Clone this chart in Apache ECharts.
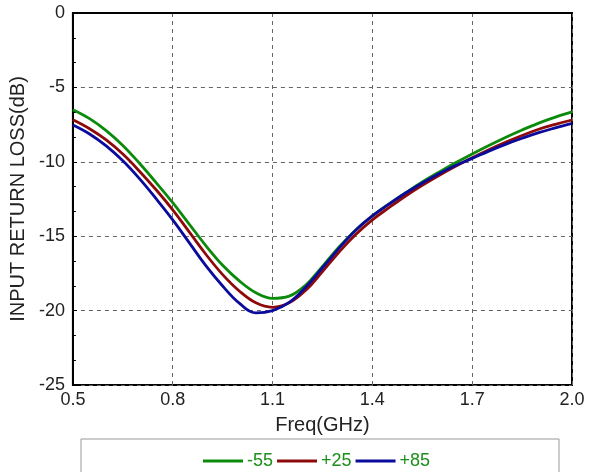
<!DOCTYPE html>
<html>
<head>
<meta charset="utf-8">
<script src="https://cdn.jsdelivr.net/npm/echarts@6/dist/echarts.min.js"></script>
<style>
	html, body { margin: 0; padding: 0; background: #fff; }
	#main { width: 593px; height: 472px; }
</style>
</head>
<body>
<div id="main"></div>
<script>
// 频率点 (GHz)
const freq = [0.5, 0.55, 0.6, 0.65, 0.7, 0.75, 0.8, 0.85, 0.9, 0.95, 1.0, 1.05, 1.1, 1.15, 1.2, 1.25,
	1.3, 1.35, 1.4, 1.45, 1.5, 1.55, 1.6, 1.65, 1.7, 1.75, 1.8, 1.85, 1.9, 1.95, 2.0];
// 各温度下的输入回波损耗 (dB)
const loss_m55 = [-6.5, -7.1, -7.9, -8.9, -10.1, -11.4, -12.75, -14.2, -15.65, -16.95, -18.0, -18.8, -19.18, -19.03, -18.28, -17.03,
	-15.73, -14.58, -13.63, -12.83, -12.08, -11.36, -10.7, -10.07, -9.47, -8.9, -8.36, -7.86, -7.4, -7.0, -6.65];
const loss_p25 = [-7.18, -7.78, -8.53, -9.48, -10.63, -11.88, -13.23, -14.73, -16.23, -17.58, -18.68, -19.48, -19.78, -19.48, -18.63, -17.38,
	-16.06, -14.88, -13.9, -13.08, -12.3, -11.58, -10.92, -10.3, -9.73, -9.19, -8.69, -8.23, -7.81, -7.48, -7.19];
const loss_p85 = [-7.53, -8.13, -8.93, -9.93, -11.13, -12.48, -13.9, -15.45, -17.0, -18.35, -19.5, -20.15, -20.0, -19.45, -18.42, -17.12,
	-15.8, -14.6, -13.64, -12.84, -12.1, -11.42, -10.8, -10.25, -9.77, -9.28, -8.83, -8.42, -8.04, -7.72, -7.42];
const series_names = ['-55', '+25', '+85'];

const chart = echarts.init(document.getElementById('main'));

function pairs(ys) {
	return freq.map((f, i) => [f, ys[i]]);
}

const font = 'Liberation Sans, Arial, sans-serif';
const colors = ['#0b8a0b', '#8e0a0a', '#0a0a9c'];

let option = {
	animation: false,
	textStyle: { fontFamily: font },
	grid: {
		left: 72,
		right: 21,
		top: 13,
		bottom: 87,
		show: true,
		borderColor: '#000',
		borderWidth: 2,
	},
	legend: {
		top: 447,
		left: 198,
		itemWidth: 40,
		itemHeight: 3,
		itemGap: 4,
		textStyle: { color: '#1a8f1a', fontSize: 18, fontFamily: font, padding: [0, 0, 0, -1] },
		data: series_names.map(n => ({ name: n, icon: 'rect' })),
	},
	graphic: [
		{
			type: 'rect',
			shape: { x: 81, y: 439, width: 478, height: 40 },
			style: { fill: 'none', stroke: '#999', lineWidth: 1 },
			silent: true,
		},
	],
	xAxis: {
		type: 'value',
		min: 0.5,
		max: 2.0,
		interval: 0.3,
		name: 'Freq(GHz)',
		nameLocation: 'middle',
		nameGap: 30,
		nameTextStyle: { color: '#222', fontSize: 20 },
		axisLine: { lineStyle: { color: '#000', width: 2 } },
		axisTick: { show: false },
		axisLabel: {
			color: '#222',
			fontSize: 18,
			margin: 6,
			formatter: v => v.toFixed(1),
		},
		splitLine: { show: true, lineStyle: { color: '#666', type: [4, 4], width: 1 } },
	},
	yAxis: {
		type: 'value',
		min: -25,
		max: 0,
		interval: 5,
		name: 'INPUT RETURN LOSS(dB)',
		nameLocation: 'middle',
		nameGap: 40,
		nameTextStyle: { color: '#222', fontSize: 20 },
		axisLine: { lineStyle: { color: '#000', width: 2 } },
		axisTick: { show: true, inside: true, length: 4, lineStyle: { color: '#000' } },
		minorTick: { show: true, splitNumber: 3, length: 3, lineStyle: { color: '#000' } },
		axisLabel: { color: '#222', fontSize: 18, margin: 8 },
		splitLine: { show: true, lineStyle: { color: '#666', type: [4, 4], width: 1 } },
	},
	series: series_names.map((name, i) => ({
		name: name,
		type: 'line',
		data: pairs([loss_m55, loss_p25, loss_p85][i]),
		smooth: 0.4,
		showSymbol: false,
		lineStyle: { color: colors[i], width: 2.8 },
		itemStyle: { color: colors[i] },
	})),
};
chart.setOption(option);
</script>
</body>
</html>
